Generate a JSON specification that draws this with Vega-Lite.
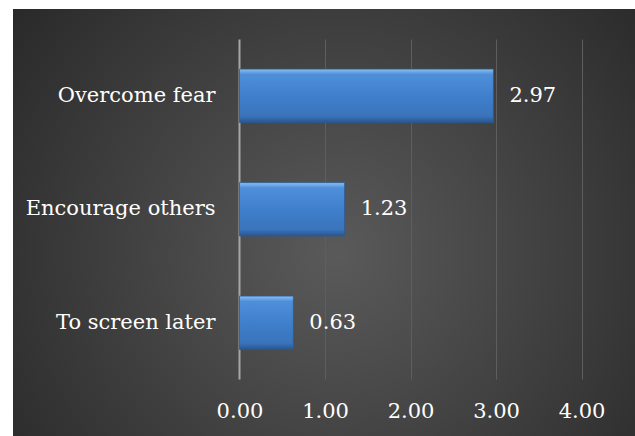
{
  "$schema": "https://vega.github.io/schema/vega-lite/v6.json",
  "width": 622,
  "height": 427,
  "padding": {"left": 13, "top": 9, "right": 0, "bottom": 0},
  "autosize": {"type": "none"},
  "background": "#ffffff",
  "config": {
    "font": "DejaVu Serif",
    "view": {
      "stroke": null,
      "fill": {
        "gradient": "radial",
        "x1": 0.52, "y1": 0.55, "r1": 0,
        "x2": 0.52, "y2": 0.55, "r2": 0.75,
        "stops": [
          {"offset": 0, "color": "#5a5a5a"},
          {"offset": 1, "color": "#222222"}
        ]
      }
    }
  },
  "data": {
    "values": [
      {"reason": "Overcome fear", "value": 2.97},
      {"reason": "Encourage others", "value": 1.23},
      {"reason": "To screen later", "value": 0.63}
    ]
  },
  "encoding": {
    "y": {
      "field": "reason",
      "type": "nominal",
      "sort": null,
      "scale": {"paddingInner": 0.529, "paddingOuter": 0.6456, "align": 0.41},
      "axis": {
        "title": null,
        "orient": "left",
        "offset": -202,
        "domain": false,
        "ticks": false,
        "grid": false,
        "labelPadding": 0,
        "labelFont": "DejaVu Serif",
        "labelFontSize": 21,
        "labelColor": "#ffffff",
        "labelBaseline": "middle",
        "labelLimit": 0
      }
    },
    "x": {
      "field": "value",
      "type": "quantitative",
      "scale": {"domain": [-2.6491, 4.6257], "nice": false, "zero": false},
      "axis": {
        "title": null,
        "orient": "bottom",
        "values": [0, 1, 2, 3, 4],
        "format": ".2f",
        "offset": -25,
        "domain": false,
        "ticks": false,
        "labelPadding": 0,
        "labelBaseline": "middle",
        "labelFont": "DejaVu Serif",
        "labelFontSize": 21,
        "labelColor": "#ffffff",
        "labelFlush": false,
        "labelOverlap": false,
        "labelBound": false,
        "grid": true,
        "gridColor": {"condition": {"test": "datum.value === 0", "value": "#a6a6a6"}, "value": "#5e5e5e"},
        "gridWidth": {"condition": {"test": "datum.value === 0", "value": 2}, "value": 1},
        "gridDash": [0, 57, 340, 1000]
      }
    }
  },
  "layer": [
    {
      "mark": {
        "type": "bar",
        "stroke": "#2b5a92",
        "strokeWidth": 0.8,
        "fill": {
          "gradient": "linear",
          "x1": 0, "y1": 0, "x2": 0, "y2": 1,
          "stops": [
            {"offset": 0, "color": "#8cc0f2"},
            {"offset": 0.1, "color": "#4f8fda"},
            {"offset": 0.5, "color": "#3f7fcc"},
            {"offset": 0.88, "color": "#3a74bb"},
            {"offset": 1, "color": "#2a558c"}
          ]
        }
      }
    },
    {
      "mark": {
        "type": "text",
        "align": "left",
        "baseline": "middle",
        "dx": 16,
        "font": "DejaVu Serif",
        "fontSize": 21,
        "fill": "#ffffff"
      },
      "encoding": {
        "text": {"field": "value", "type": "quantitative", "format": ".2f"}
      }
    }
  ]
}
